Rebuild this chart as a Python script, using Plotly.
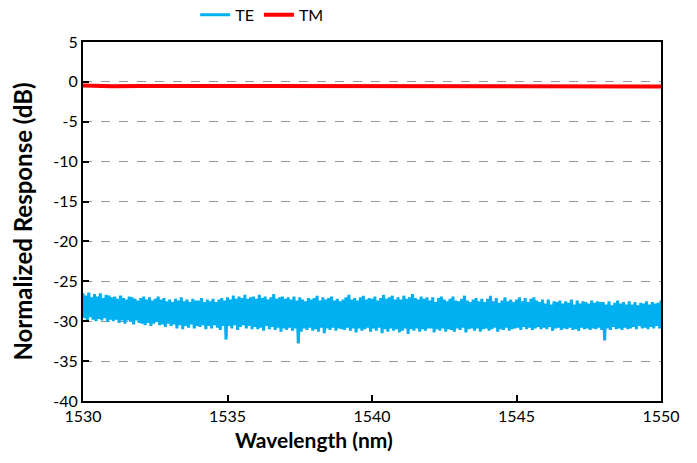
import numpy as np
import plotly.graph_objects as go

# Wavelength sampling grid (nm)
wl_start, wl_stop, wl_step = 1530.0, 1550.0, 0.05

# TE response (dB), 20 samples per nm
te_db = [
    -26.5, -29.6, -26.8, -29.9, -26.4, -29.5, -27.0, -29.8, -26.6, -30.0, -26.9, -29.7, -26.5, -29.9, -27.1, -29.6, -26.7, -30.1, -26.8, -29.8,
    -27.0, -30.0, -26.9, -29.8, -27.2, -30.2, -26.8, -29.9, -27.1, -30.3, -27.3, -29.9, -26.9, -30.1, -27.0, -30.4, -27.2, -29.9, -27.4, -30.2,
    -27.1, -30.3, -26.9, -30.5, -27.3, -30.2, -27.0, -30.6, -27.4, -30.3, -27.2, -30.1, -26.9, -30.5, -27.3, -30.4, -27.1, -30.7, -27.5, -30.3,
    -27.3, -30.6, -27.6, -30.4, -27.2, -30.9, -27.4, -30.5, -27.0, -31.0, -27.5, -30.6, -27.3, -30.8, -27.6, -30.4, -27.2, -30.9, -27.4, -30.6,
    -27.4, -30.7, -27.1, -30.5, -27.6, -31.0, -27.3, -30.6, -27.5, -30.9, -27.2, -30.5, -27.6, -30.8, -27.3, -31.1, -27.1, -30.6, -27.4, -32.3,
    -27.0, -30.6, -27.3, -30.9, -26.8, -30.5, -27.2, -31.1, -26.9, -30.7, -27.1, -30.5, -26.7, -30.9, -27.2, -30.6, -27.0, -31.0, -26.9, -30.7,
    -27.2, -31.0, -26.7, -30.8, -27.1, -31.2, -26.9, -30.6, -27.3, -31.0, -27.0, -30.7, -26.6, -31.1, -27.2, -30.8, -27.0, -31.3, -26.9, -30.9,
    -27.2, -31.1, -27.0, -30.8, -27.3, -31.2, -26.9, -30.9, -27.4, -32.8, -27.0, -31.3, -27.3, -30.9, -27.5, -31.1, -27.1, -30.8, -27.3, -31.2,
    -27.1, -31.0, -26.8, -31.3, -27.4, -30.8, -27.0, -31.5, -27.3, -30.9, -27.1, -31.1, -26.9, -30.8, -27.4, -31.2, -27.2, -30.9, -27.5, -31.0,
    -27.3, -31.1, -27.0, -30.8, -26.7, -31.2, -27.3, -30.9, -27.1, -31.4, -27.4, -30.9, -27.0, -31.2, -26.8, -31.0, -27.3, -30.8, -27.1, -31.3,
    -27.2, -30.9, -26.9, -31.2, -27.4, -30.8, -27.1, -31.5, -26.7, -31.0, -27.2, -31.3, -27.0, -30.9, -26.8, -31.2, -27.3, -31.0, -27.0, -31.4,
    -27.3, -31.2, -26.8, -30.9, -27.2, -31.6, -27.0, -31.0, -26.6, -31.2, -27.1, -30.9, -27.3, -31.3, -26.9, -31.0, -27.2, -31.2, -27.0, -30.9,
    -27.4, -30.9, -27.0, -31.4, -27.6, -31.0, -27.1, -31.2, -26.9, -30.9, -27.3, -31.3, -27.5, -31.0, -27.2, -31.1, -26.9, -31.3, -27.4, -30.9,
    -27.5, -31.1, -27.2, -30.8, -26.8, -31.4, -27.4, -31.0, -27.6, -30.9, -27.3, -31.2, -27.1, -30.9, -27.5, -31.3, -27.2, -31.0, -27.6, -30.9,
    -27.2, -31.2, -26.8, -31.0, -27.5, -30.8, -27.1, -31.3, -27.7, -31.0, -27.4, -31.1, -27.0, -30.8, -27.5, -31.2, -27.3, -31.0, -27.6, -30.9,
    -27.3, -30.8, -27.0, -31.1, -27.5, -30.7, -27.1, -31.0, -27.6, -30.8, -27.2, -31.1, -27.0, -30.9, -27.4, -30.7, -27.6, -31.0, -27.3, -30.8,
    -27.8, -31.0, -27.3, -30.7, -27.9, -31.2, -27.5, -30.9, -27.6, -30.8, -27.4, -31.1, -27.8, -30.9, -27.5, -31.0, -27.7, -30.8, -27.3, -31.1,
    -27.9, -31.0, -27.4, -31.2, -27.8, -30.8, -27.5, -31.0, -27.6, -30.9, -27.8, -31.1, -27.4, -30.9, -27.7, -31.0, -27.5, -30.8, -27.6, -31.1,
    -27.6, -32.4, -27.9, -30.9, -27.5, -31.1, -28.0, -30.7, -27.7, -31.0, -27.4, -30.9, -27.8, -31.1, -27.6, -30.8, -27.9, -31.0, -27.5, -30.9,
    -27.9, -30.7, -27.6, -31.0, -28.0, -30.6, -27.7, -30.9, -27.8, -30.8, -27.5, -31.0, -27.9, -30.7, -27.6, -30.9, -27.8, -30.6, -27.7, -30.9,
    -27.4,
]

# TM response (dB), one sample per nm
tm_db = [-0.45, -0.55, -0.5, -0.5, -0.48, -0.5, -0.5, -0.52, -0.5, -0.5,
         -0.5, -0.5, -0.52, -0.5, -0.5, -0.55, -0.55, -0.55, -0.55, -0.58, -0.58]

x_ticks = [1530, 1535, 1540, 1545, 1550]
y_ticks = [5, 0, -5, -10, -15, -20, -25, -30, -35, -40]

wl_te = np.round(np.arange(len(te_db)) * wl_step + wl_start, 3)
wl_tm = np.linspace(wl_start, wl_stop, len(tm_db))

font_family = "Lato, 'Open Sans', sans-serif"

fig = go.Figure()
fig.add_trace(go.Scatter(x=wl_te, y=te_db, mode="lines", name="TE",
                         line=dict(color="#00B0F0", width=3)))
fig.add_trace(go.Scatter(x=wl_tm, y=tm_db, mode="lines", name="TM",
                         line=dict(color="#FF0000", width=4)))

fig.update_layout(
    width=697, height=463,
    margin=dict(l=83, r=36, t=42, b=62, autoexpand=False),
    paper_bgcolor="white", plot_bgcolor="white",
    font=dict(family=font_family, size=15, color="black"),
    showlegend=True,
    legend=dict(orientation="h", x=0.31, xanchor="center",
                yref="container", y=0.968, yanchor="middle",
                font=dict(size=16), itemwidth=30,
                tracegroupgap=0, bgcolor="rgba(0,0,0,0)"),
)

fig.update_xaxes(
    range=[1530, 1550], tickvals=x_ticks, ticktext=[str(v) for v in x_ticks],
    showline=True, linecolor="black", linewidth=2, mirror=True,
    ticks="inside", ticklen=6, tickwidth=2, tickcolor="black",
    showgrid=False, zeroline=False,
    tickfont=dict(size=16),
)
fig.update_yaxes(
    range=[-40, 5], tickvals=y_ticks, ticktext=[str(v) for v in y_ticks],
    showline=True, linecolor="black", linewidth=2, mirror=True,
    ticks="inside", ticklen=6, tickwidth=2, tickcolor="black",
    showgrid=True, gridcolor="#999999", gridwidth=1, griddash="dash",
    zeroline=False,
    title=dict(text="<b>Normalized Response (dB)</b>", font=dict(size=24), standoff=14),
    tickfont=dict(size=16),
)

fig.add_annotation(text="<b>Wavelength (nm)</b>", xref="paper", yref="paper",
                   x=0.40, y=-0.108, xanchor="center", yanchor="middle",
                   showarrow=False, font=dict(size=21))

fig.write_html("out.html")
